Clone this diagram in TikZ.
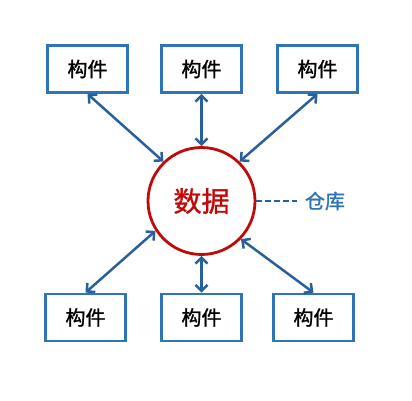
\documentclass[tikz,border=0pt]{standalone}
\usepackage{fontspec}
\newfontfamily\cjk[FakeBold=1.2]{Noto Sans CJK SC}
\usetikzlibrary{arrows.meta}
\usepackage{xcolor}
\definecolor{boxblue}{RGB}{46,117,182}
\definecolor{arrowblue}{RGB}{40,96,156}
\definecolor{datared}{RGB}{192,10,10}

\begin{document}
\begin{tikzpicture}[x=1pt, y=-1pt,
 part/.style={draw=boxblue, line width=2.8pt, minimum width=80pt, minimum height=47pt, font=\cjk\fontsize{20}{22}\selectfont},
 link/.style={arrowblue, line width=2.5pt, {Straight Barb[length=6pt,width=12pt]}-{Straight Barb[length=6pt,width=12pt]}}]
\useasboundingbox (0,0) rectangle (412,400);
\node[circle, draw=datared, line width=2.8pt, minimum size=107pt, text=datared, font=\cjk\fontsize{28}{30}\selectfont] (data) at (201.5,201) {数据};
\foreach \n/\x in {l/87.5, m/201.5, r/317.5}
 \node[part] (top\n) at (\x,69) {构件};
\foreach \n/\x in {l/85.5, m/201.5, r/313.5}
 \node[part] (bot\n) at (\x,317.5) {构件};
\foreach \a/\b in {topl.south/data.134, topm.south/data.north, topr.south/data.46, botl.north/data.213, botm.north/data.south, botr.north/data.-44}
 \draw[link] (\a) -- (\b);
\node[text=boxblue, inner sep=2pt, font=\cjk\fontsize{20}{22}\selectfont] (store) at (325,201) {仓库};
\draw[arrowblue, line width=2.2pt, dash pattern=on 6pt off 3pt, shorten >=6pt] (data.east) -- (store.west);
\end{tikzpicture}
\end{document}
